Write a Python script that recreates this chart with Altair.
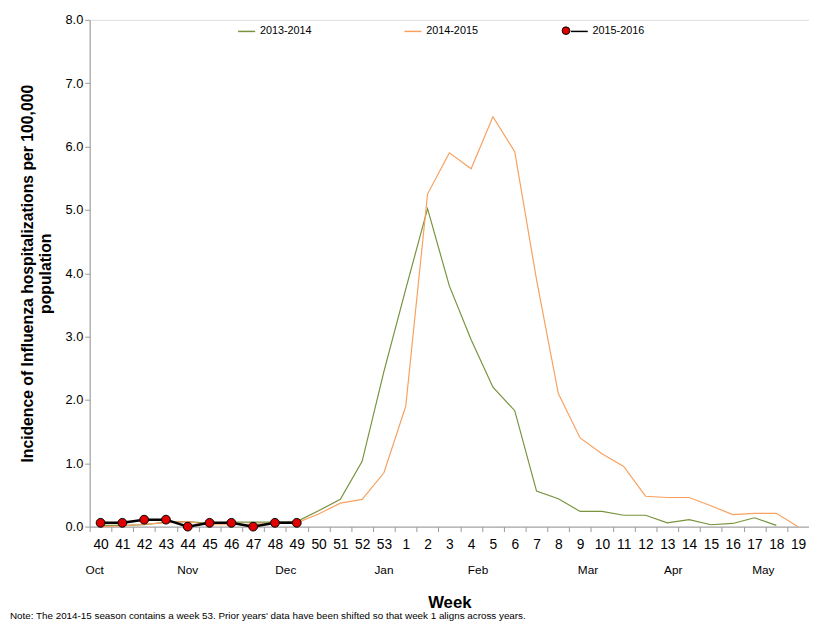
import pandas as pd
import altair as alt

weeks = [str(w) for w in list(range(40, 54)) + list(range(1, 20))]

s1314 = [0.02, 0.02, 0.03, 0.07, 0.08, 0.05, 0.07, 0.07, 0.07, 0.08, 0.25, 0.43, 1.03, 2.45,
         3.75, 5.02, 3.8, 2.95, 2.2, 1.83, 0.56, 0.44, 0.24, 0.24, 0.18, 0.18, 0.06, 0.11,
         0.03, 0.05, 0.14, 0.02, None]
s1415 = [0.0, 0.01, 0.04, 0.06, 0.08, 0.03, 0.03, 0.04, 0.05, 0.06, 0.2, 0.37, 0.43, 0.85,
         1.9, 5.25, 5.9, 5.65, 6.47, 5.92, 3.9, 2.1, 1.4, 1.15, 0.95, 0.48, 0.46, 0.46,
         0.33, 0.19, 0.21, 0.21, 0.0]
s1516 = [0.06, 0.06, 0.11, 0.11, 0.0, 0.06, 0.06, 0.0, 0.06, 0.06]

months = ["Oct", "Nov", "Dec", "Jan", "Feb", "Mar", "Apr", "May"]
month_week = ["40", "44", "48", "53", "4", "9", "13", "17"]
month_dx = [-6, 0, 11, 0, 7, 8, 6, 9]

rows = []
for name, vals in [("2013-2014", s1314), ("2014-2015", s1415), ("2015-2016", s1516)]:
    for w, v in zip(weeks, vals):
        if v is not None:
            rows.append({"week": w, "rate": v, "season": name})
df = pd.DataFrame(rows)

font = "Liberation Sans"
xenc = alt.X("week:N", sort=weeks, title="Week",
             axis=alt.Axis(labelAngle=0, labelFontSize=14, labelColor="black", tickBand="extent",
                           titleFontSize=17, titleFontWeight="bold", titlePadding=44,
                           domainColor="#999", tickColor="#999", labelPadding=6))
yenc = alt.Y("rate:Q", scale=alt.Scale(domain=[0, 8]),
             title=["Incidence of Influenza hospitalizations per 100,000", "population"],
             axis=alt.Axis(values=[0, 1, 2, 3, 4, 5, 6, 7, 8], format=".1f", grid=False,
                           labelFontSize=13, labelColor="black", titleFontSize=16,
                           titleFontWeight="bold", titlePadding=12, domainColor="#999",
                           tickColor="#999"))
cscale = alt.Scale(domain=["2013-2014", "2014-2015", "2015-2016"],
                   range=["#77933C", "#F7A160", "black"])

lines = alt.Chart(df).mark_line().encode(
    x=xenc, y=yenc,
    color=alt.Color("season:N", scale=cscale, title=None,
                    legend=alt.Legend(orient="none", legendX=150, legendY=2, direction="horizontal",
                                      symbolType="stroke", symbolStrokeWidth=1.5, labelFontSize=11,
                                      columnPadding=90, symbolSize=300)),
    strokeWidth=alt.condition("datum.season == '2015-2016'", alt.value(2.5), alt.value(1.2)),
)
pts = alt.Chart(df[df.season == "2015-2016"]).mark_point(
    filled=True, fill="#E00000", stroke="black", strokeWidth=1, size=80, opacity=1
).encode(x=alt.X("week:N", sort=weeks), y="rate:Q")

# red dot on the 2015-2016 legend entry
ldot = alt.Chart(pd.DataFrame({"a": [1]})).mark_point(
    filled=True, fill="#E00000", stroke="black", strokeWidth=1, size=60, opacity=1
).encode(x=alt.value(484), y=alt.value(11))

mdf = pd.DataFrame({"week": month_week, "m": months, "dx": month_dx})
mlab = [alt.Chart(mdf.iloc[[i]]).mark_text(fontSize=12, font=font, dx=d).encode(
    x=alt.X("week:N", sort=weeks), y=alt.value(559), text="m:N")
    for i, d in enumerate(month_dx)]

note = alt.Chart(pd.DataFrame({"t": ["Note: The 2014-15 season contains a week 53.  Prior years' data have been shifted so that week  1 aligns across years."]})).mark_text(
    align="left", fontSize=10, font=font).encode(x=alt.value(-81), y=alt.value(606), text="t:N")

chart = alt.layer(lines, pts, ldot, *mlab, note).properties(
    width=731, height=515, autosize=alt.AutoSizeParams(type="none"),
    padding={"left": 83, "top": 7, "right": 0, "bottom": 100}
).configure_view(stroke="#999").configure(font=font)

chart.save("out.html", embed_options={"renderer": "svg", "actions": False})
